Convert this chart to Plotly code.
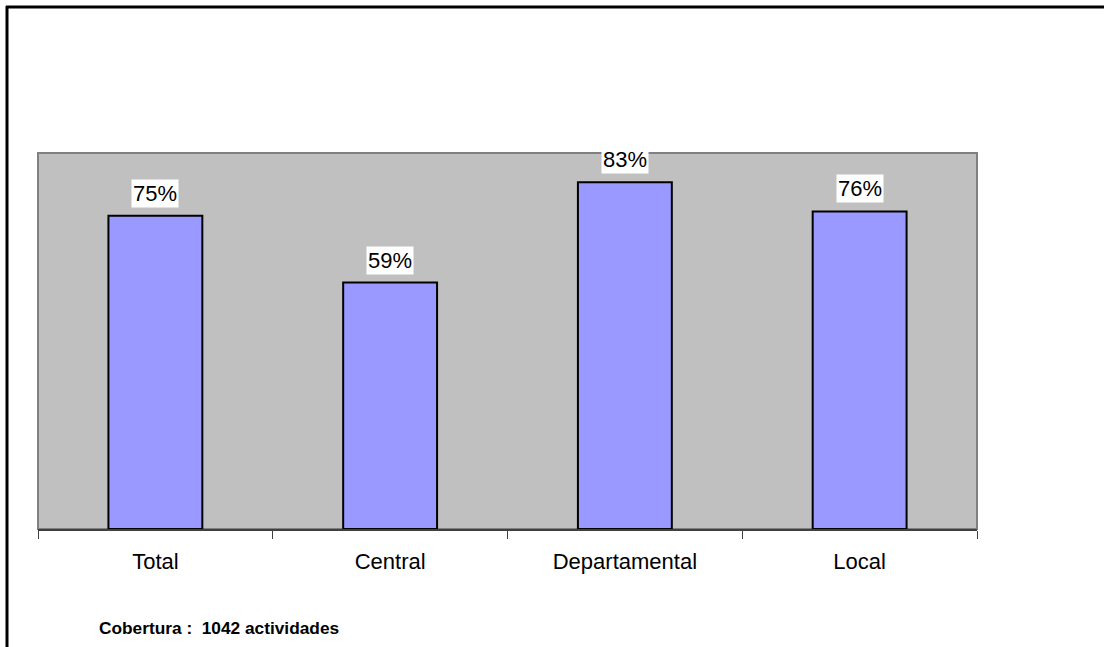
import plotly.graph_objects as go

categories = ["Total", "Central", "Departamental", "Local"]
values = [0.75, 0.59, 0.83, 0.76]
labels = ["75%", "59%", "83%", "76%"]
note = "Cobertura :&nbsp; 1042 actividades"

W, H = 1104, 647
L, R, T, B = 38, 127, 153, 118
pw, ph = W - L - R, H - T - B

def px_x(p):
    return (p - L) / pw

def px_y(p):
    return (H - B - p) / ph

FONT = "Liberation Sans, Arial"

fig = go.Figure()
fig.add_trace(go.Bar(
    x=categories, y=values, width=0.4,
    marker=dict(color="#9999FF", line=dict(color="black", width=2)),
    hoverinfo="skip",
))

for c, v, t in zip(categories, values, labels):
    fig.add_annotation(x=c, y=v, text=t, showarrow=False, yanchor="bottom", yshift=8,
                       bgcolor="white", borderpad=1,
                       font=dict(family=FONT, size=22, color="black"))

fig.add_annotation(xref="paper", yref="paper", x=px_x(97), y=px_y(628), xanchor="left", yanchor="middle",
                   text="<b>" + note + "</b>", showarrow=False,
                   font=dict(family=FONT, size=17.3, color="black"))

# plot area frame
fig.add_shape(type="rect", xref="paper", yref="paper", x0=0, x1=1, y0=0, y1=1,
              line=dict(color="#808080", width=2), layer="below")
# outer chart border (left and top)
fig.add_shape(type="line", xref="paper", yref="paper", x0=px_x(7), x1=px_x(7), y0=px_y(6), y1=px_y(660),
              line=dict(color="black", width=3))
fig.add_shape(type="line", xref="paper", yref="paper", x0=px_x(6), x1=px_x(1110), y0=px_y(7), y1=px_y(7),
              line=dict(color="black", width=3))

fig.update_layout(
    width=W, height=H,
    margin=dict(l=L, r=R, t=T, b=B),
    paper_bgcolor="white", plot_bgcolor="#C0C0C0",
    showlegend=False,
    font=dict(family=FONT, size=22, color="black"),
    xaxis=dict(type="category", tickson="boundaries", ticks="outside", ticklen=8, tickcolor="#404040",
               showline=True, linecolor="#404040", linewidth=2, showgrid=False,
               tickfont=dict(size=22), ticklabelstandoff=12),
    yaxis=dict(range=[0, 0.9], visible=False, showgrid=False, zeroline=False),
)

fig.write_html("out.html", config={"displayModeBar": False},
               post_script="document.body.style.margin='0px';document.body.style.overflow='hidden';")
